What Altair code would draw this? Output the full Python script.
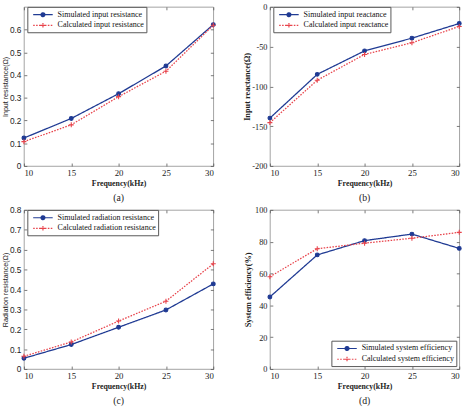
import altair as alt
import pandas as pd

# Frequency sweep (kHz)
freq = [10, 15, 20, 25, 30]

# (a) input resistance (ohm)
in_res_sim = [0.123, 0.209, 0.318, 0.440, 0.622]
in_res_calc = [0.107, 0.181, 0.305, 0.417, 0.619]

# (b) input reactance (ohm)
in_react_sim = [-139.8, -84.8, -55.3, -39.3, -20.9]
in_react_calc = [-145.5, -92.2, -59.8, -45.1, -24.6]

# (c) radiation resistance (ohm)
rad_res_sim = [0.054, 0.123, 0.210, 0.297, 0.428]
rad_res_calc = [0.064, 0.136, 0.241, 0.341, 0.529]

# (d) system efficiency (%)
eff_sim = [45.3, 71.7, 80.7, 84.8, 75.8]
eff_calc = [58.0, 75.6, 79.1, 82.2, 85.9]

names_a = ["Simulated input resistance", "Calculated input resistance"]
names_b = ["Simulated input reactance", "Calculated input reactance"]
names_c = ["Simulated radiation resistance", "Calculated radiation resistance"]
names_d = ["Simulated system efficiency", "Calculated system efficiency"]

ticks_a = [0, 0.1, 0.2, 0.3, 0.4, 0.5, 0.6]
ticks_b = [-200, -150, -100, -50, 0]
ticks_c = [0, 0.1, 0.2, 0.3, 0.4, 0.5, 0.6, 0.7, 0.8]
ticks_d = [0, 20, 40, 60, 80, 100]

SERIF = "Liberation Serif"
SANS = "Liberation Sans"
BLUE, RED = "#1f3a93", "#e8444c"
W, H = 194, 163

# marker glyphs (unit space) and legend glyphs (line + marker)
DOT = "M-0.65,0A0.65,0.65,0,1,1,0.65,0A0.65,0.65,0,1,1,-0.65,0Z"
PLUS = "M-0.85,0H0.85M0,-0.85V0.85"
LEG_DOT = "M-2,0H2M-0.4,0A0.4,0.4,0,1,1,0.4,0A0.4,0.4,0,1,1,-0.4,0Z"
LEG_PLUS = "M-2,0H2M-0.5,0H0.5M0,-0.5V0.5"


def panel(sim, calc, names, y_domain, y_ticks, y_title, caption,
          y_font, y_title_size, y_title_weight, title_x, legend):
    df = pd.DataFrame({
        "freq": freq * 2,
        "value": list(sim) + list(calc),
        "series": [names[0]] * len(freq) + [names[1]] * len(freq),
    })
    xscale = alt.Scale(domain=[10, 30], nice=False, zero=False)
    yscale = alt.Scale(domain=y_domain, nice=False, zero=False)
    stroke_scale = alt.Scale(domain=names, range=[BLUE, RED])
    dash_scale = alt.Scale(domain=names, range=[[1, 0], [1.6, 1.4]])

    # one shared legend definition for every layer, so the key merges cleanly
    leg = alt.Legend(
        title=None, symbolSize=100, symbolStrokeWidth=1.2, symbolOpacity=1,
        symbolOffset=8, labelOffset=9, rowPadding=-3, padding=2,
        labelFont=SERIF, labelFontSize=8.2, labelColor="#111", labelLimit=300,
        fillColor="white", strokeColor="#555", **legend)

    x_bottom = alt.X("freq:Q", scale=xscale, title="Frequency(kHz)", axis=alt.Axis(
        orient="bottom", values=freq, offset=-3, tickSize=3, domain=False, grid=False,
        tickColor="#555", tickWidth=0.8, minExtent=0,
        labelPadding=3, labelFont=SERIF, labelFontSize=9, labelColor="#222",
        titleFont=SERIF, titleFontSize=8, titleFontWeight="bold", titleColor="#222",
        titleY=21, titleBaseline="middle"))
    y_left = alt.Y("value:Q", scale=yscale, title=y_title, axis=alt.Axis(
        orient="left", values=y_ticks, offset=-3, tickSize=3, domain=False, grid=False,
        tickColor="#555", tickWidth=0.8, minExtent=0,
        labelExpr="datum.value + ''",
        labelPadding=3, labelFont=y_font, labelFontSize=8.5, labelColor="#222",
        titleFont=y_font, titleFontSize=y_title_size, titleFontWeight=y_title_weight,
        titleColor="#222", titleAngle=270, titleX=title_x, titleY=H / 2,
        titleAlign="center", titleBaseline="middle"))
    x_top = alt.X("freq:Q", scale=xscale, axis=alt.Axis(
        orient="top", values=freq, offset=-3, tickSize=3, domain=False, grid=False,
        tickColor="#555", tickWidth=0.8, labels=False, title=None, minExtent=0))
    y_right = alt.Y("value:Q", scale=yscale, axis=alt.Axis(
        orient="right", values=y_ticks, offset=-3, tickSize=3, domain=False, grid=False,
        tickColor="#555", tickWidth=0.8, labels=False, title=None, minExtent=0))

    base = alt.Chart(df)
    lines = base.mark_line(strokeWidth=1.3).encode(
        x=x_bottom, y=y_left,
        stroke=alt.Stroke("series:N", scale=stroke_scale, legend=leg),
        strokeDash=alt.StrokeDash("series:N", scale=dash_scale, legend=leg),
    )
    sim_pts = base.transform_filter(alt.datum.series == names[0]).mark_point(
        shape=DOT, size=36, opacity=1, strokeWidth=1.1, fill=BLUE, stroke=BLUE, filled=False
    ).encode(x=x_top, y=y_right)
    calc_pts = base.transform_filter(alt.datum.series == names[1]).mark_point(
        shape=PLUS, size=36, opacity=1, strokeWidth=1.1, stroke=RED
    ).encode(
        x=alt.X("freq:Q", scale=xscale, axis=None),
        y=alt.Y("value:Q", scale=yscale, axis=None),
    )
    key = base.mark_point(size=100, opacity=0).encode(
        x=alt.X("freq:Q", scale=xscale, axis=None),
        y=alt.Y("value:Q", scale=yscale, axis=None),
        stroke=alt.Stroke("series:N", scale=stroke_scale, legend=leg),
        fill=alt.Fill("series:N", scale=stroke_scale, legend=leg),
        strokeDash=alt.StrokeDash("series:N", scale=dash_scale, legend=leg),
        shape=alt.Shape("series:N", scale=alt.Scale(domain=names, range=[LEG_DOT, LEG_PLUS]),
                        legend=leg),
    )
    return alt.layer(lines, sim_pts, calc_pts, key).resolve_axis(
        x="independent", y="independent"
    ).properties(
        width=W, height=H,
        title=alt.TitleParams(caption, orient="bottom", frame="group", anchor="middle",
                              font=SERIF, fontSize=10, fontWeight="normal",
                              color="#222", offset=6),
    )


pa = panel(in_res_sim, in_res_calc, names_a, [0, 0.7], ticks_a, "Input resistance(Ω)",
           "(a)", SANS, 7.3, "normal", -22, dict(orient="none", legendX=3.5, legendY=0))
pb = panel(in_react_sim, in_react_calc, names_b, [-200, 0], ticks_b, "Input reactance(Ω)",
           "(b)", SERIF, 8.5, "bold", -27, dict(orient="none", legendX=3.5, legendY=0))
pc = panel(rad_res_sim, rad_res_calc, names_c, [0, 0.8], ticks_c, "Radiation resistance(Ω)",
           "(c)", SANS, 7.3, "normal", -22, dict(orient="none", legendX=3.5, legendY=0))
pd_ = panel(eff_sim, eff_calc, names_d, [0, 100], ticks_d, "System efficiency(%)",
            "(d)", SERIF, 8.5, "bold", -26, dict(orient="bottom-right", offset=3))

chart = alt.concat(
    pa, pb, pc, pd_, columns=2, spacing={"row": 1, "column": 18}, align="each"
).resolve_scale(
    stroke="independent", fill="independent", shape="independent", strokeDash="independent"
).resolve_legend(
    stroke="independent", fill="independent", shape="independent", strokeDash="independent"
).configure(
    padding={"left": 0.5, "top": -3, "right": 0, "bottom": 0},
    background="white",
).configure_view(
    stroke="#8a8a8a", strokeWidth=0.8
)

chart.save("out.html", embed_options={"renderer": "svg", "actions": False})
